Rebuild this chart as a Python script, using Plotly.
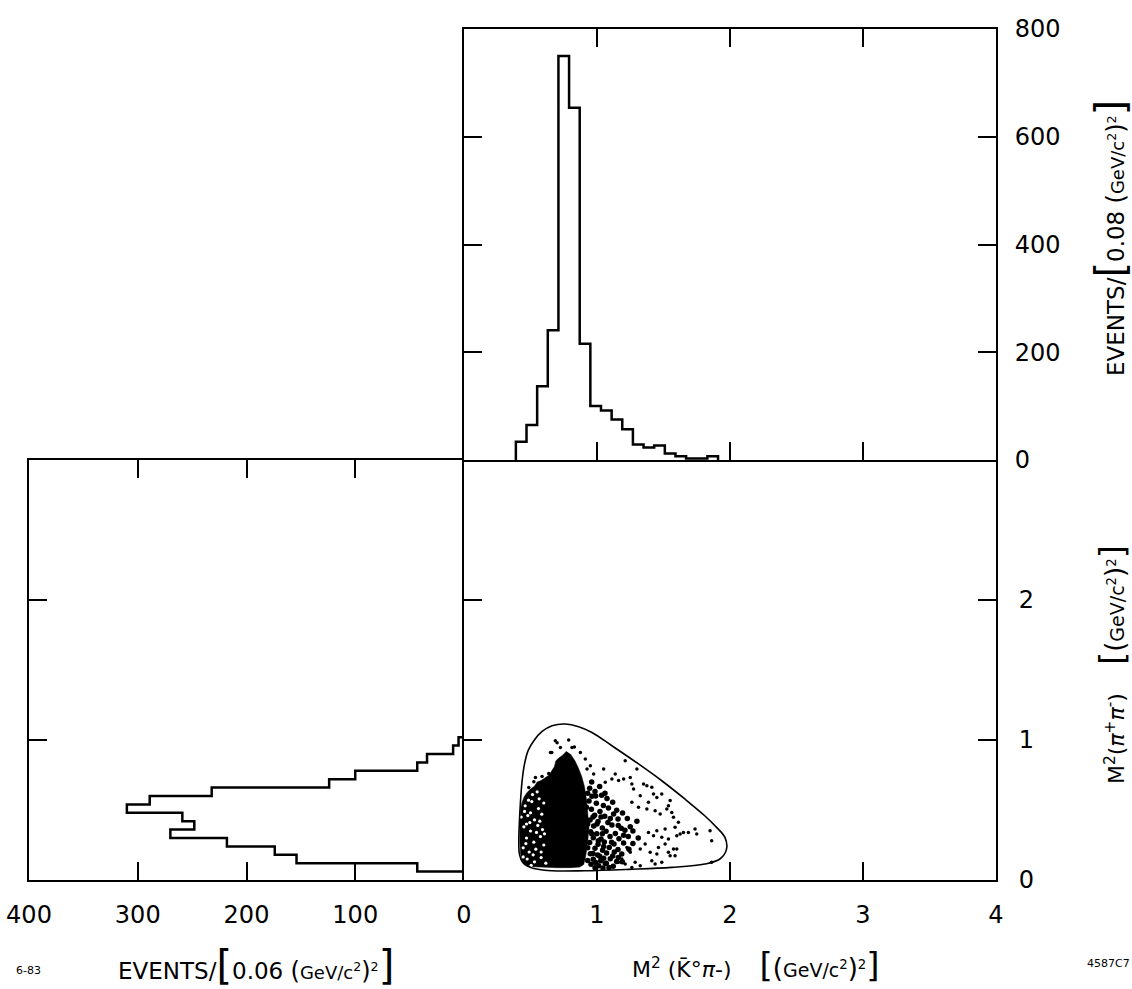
import plotly.graph_objects as go

# ---------------- data ----------------
# Upper histogram: M^2(K0bar pi-) in 0.08 (GeV/c^2)^2 bins
kpi_bin_start = 0.39
kpi_bin_width = 0.08
kpi_counts = [34, 65, 137, 241, 750, 654, 216, 100, 92, 75, 57, 29, 23, 27, 12, 7, 3, 3, 7]

# Side histogram: M^2(pi+ pi-) in 0.06 (GeV/c^2)^2 bins
pipi_bin_start = 0.06
pipi_bin_width = 0.06
pipi_counts = [43, 154, 174, 218, 270, 248, 259, 310, 289, 232, 124, 100, 43, 34, 10, 5]

# Kinematic boundary of the Dalitz plot
boundary_kpi = [0.525, 0.482, 0.455, 0.437, 0.425, 0.417, 0.412, 0.417, 0.442, 0.512, 0.662, 0.912,
                1.237, 1.561, 1.81, 1.924, 1.974, 1.962, 1.899, 1.81, 1.66, 1.487, 1.312, 1.112,
                0.962, 0.862, 0.762, 0.662, 0.587, 0.525]
boundary_pipi = [0.995, 0.924, 0.829, 0.709, 0.566, 0.424, 0.281, 0.186, 0.126, 0.086, 0.066, 0.066,
                 0.076, 0.09, 0.114, 0.15, 0.221, 0.304, 0.376, 0.459, 0.579, 0.709, 0.829, 0.959,
                 1.054, 1.095, 1.114, 1.102, 1.061, 0.995]

# Outline of the saturated (solid black) event region
core_kpi = [0.77, 0.74, 0.71, 0.69, 0.68, 0.66, 0.64, 0.61, 0.58, 0.55, 0.53, 0.50, 0.47, 0.45,
            0.435, 0.425, 0.42, 0.42, 0.425, 0.44, 0.47, 0.52, 0.60, 0.70, 0.80, 0.87, 0.90,
            0.915, 0.93, 0.94, 0.93, 0.92, 0.905, 0.885, 0.86, 0.835, 0.80]
core_pipi = [0.92, 0.89, 0.87, 0.85, 0.81, 0.78, 0.75, 0.73, 0.71, 0.70, 0.67, 0.65, 0.62, 0.59,
             0.55, 0.50, 0.40, 0.28, 0.19, 0.13, 0.105, 0.095, 0.09, 0.088, 0.088, 0.092, 0.11,
             0.17, 0.27, 0.38, 0.48, 0.58, 0.67, 0.74, 0.80, 0.85, 0.90]

# Empty specks inside the saturated region
gap_kpi = [0.46, 0.51, 0.56, 0.48, 0.53, 0.585, 0.45, 0.50, 0.555, 0.605, 0.47, 0.525, 0.575, 0.445,
           0.49, 0.54, 0.60, 0.475, 0.53, 0.58, 0.615, 0.44, 0.515, 0.565, 0.60, 0.43, 0.50, 0.55,
           0.47, 0.58, 0.455, 0.495, 0.545, 0.465, 0.52, 0.59, 0.445, 0.505, 0.57, 0.485]
gap_pipi = [0.53, 0.56, 0.51, 0.46, 0.43, 0.47, 0.38, 0.35, 0.39, 0.33, 0.30, 0.27, 0.31, 0.23,
            0.20, 0.22, 0.25, 0.15, 0.13, 0.16, 0.12, 0.12, 0.61, 0.58, 0.55, 0.45, 0.48, 0.63,
            0.40, 0.20, 0.49, 0.41, 0.34, 0.26, 0.18, 0.36, 0.165, 0.105, 0.42, 0.57]

# Events in the crowded band right of the K* column
dense_kpi = [0.945, 0.985, 1.02, 0.962, 1.035, 0.94, 1.075, 0.995, 1.048, 1.118, 0.958, 1.022, 1.086,
             1.148, 0.982, 1.058, 1.125, 1.192, 0.948, 1.008, 1.082, 1.158, 1.228, 0.975, 1.04, 1.112,
             1.182, 0.952, 0.998, 1.068, 1.138, 1.21, 0.972, 1.03, 1.098, 1.165, 0.945, 1.008, 1.055,
             1.128, 1.2, 0.985, 1.042, 1.092, 1.158, 0.95, 1.005, 1.072, 1.118, 1.186, 0.972, 1.028,
             1.1, 1.148, 0.955, 1.012, 1.062, 1.122, 0.985, 1.045, 1.09, 1.235, 1.25, 1.27, 1.19,
             0.93, 0.96, 0.92, 0.97, 0.93, 0.96, 0.93, 0.97, 0.93, 1.00, 1.03, 1.01, 1.04, 1.02,
             1.05, 0.99, 1.06, 1.10, 1.11, 1.13, 1.16, 1.20, 1.07, 0.99, 1.05, 1.16, 1.24, 1.27,
             1.31, 1.30]
dense_pipi = [0.655, 0.632, 0.668, 0.598, 0.605, 0.565, 0.582, 0.548, 0.532, 0.556, 0.505, 0.49, 0.515,
              0.498, 0.462, 0.455, 0.472, 0.478, 0.428, 0.418, 0.41, 0.435, 0.44, 0.385, 0.372, 0.392,
              0.37, 0.345, 0.33, 0.348, 0.332, 0.355, 0.302, 0.292, 0.31, 0.295, 0.268, 0.255, 0.272,
              0.258, 0.265, 0.226, 0.212, 0.232, 0.218, 0.188, 0.178, 0.192, 0.172, 0.186, 0.148, 0.138,
              0.152, 0.132, 0.112, 0.102, 0.118, 0.098, 0.088, 0.085, 0.09, 0.31, 0.38, 0.26, 0.13,
              0.62, 0.70, 0.52, 0.45, 0.40, 0.33, 0.23, 0.19, 0.14, 0.40, 0.45, 0.28, 0.33, 0.17,
              0.24, 0.60, 0.62, 0.44, 0.27, 0.20, 0.39, 0.32, 0.12, 0.125, 0.155, 0.16, 0.22, 0.35,
              0.30, 0.42]

# Isolated events
sparse_kpi = [0.687, 0.787, 0.725, 0.65, 0.812, 0.875, 0.912, 0.95, 0.925, 0.975, 0.637, 0.537, 0.487,
              0.587, 0.525, 0.70, 0.83, 0.66,
              1.212, 1.05, 1.137, 1.30, 1.112, 1.162, 1.20, 1.25, 1.062, 1.262, 1.35, 1.375, 1.412,
              1.275, 1.325, 1.425, 1.45, 1.487, 1.55, 1.387, 1.537, 1.262, 1.312, 1.375, 1.437, 1.475,
              1.525, 1.562, 1.575, 1.612, 1.587, 1.65, 1.625, 1.60, 1.687, 1.737, 1.75, 1.85, 1.862,
              1.512, 1.45, 1.425, 1.387, 1.487, 1.537, 1.512, 1.575, 1.537, 1.60, 1.462, 1.40, 1.45,
              1.412, 1.437, 1.487, 1.55, 1.587, 1.287, 1.325, 1.262, 1.862, 1.362, 1.325, 1.225,
              1.25, 1.187, 1.162, 1.212]
sparse_pipi = [0.995, 1.0, 0.947, 0.911, 0.947, 0.911, 0.864, 0.816, 0.793, 0.757, 0.76, 0.733, 0.661,
               0.74, 0.702, 0.98, 0.95, 0.91,
               0.852, 0.793, 0.757, 0.793, 0.721, 0.71, 0.721, 0.733, 0.698, 0.686, 0.686, 0.674, 0.662,
               0.65, 0.602, 0.614, 0.59, 0.614, 0.567, 0.555, 0.531, 0.555, 0.519, 0.507, 0.495, 0.471,
               0.507, 0.483, 0.448, 0.412, 0.376, 0.34, 0.328, 0.316, 0.34, 0.364, 0.328, 0.352, 0.281,
               0.364, 0.352, 0.316, 0.34, 0.305, 0.293, 0.257, 0.221, 0.198, 0.221, 0.233, 0.198, 0.186,
               0.138, 0.114, 0.126, 0.174, 0.174, 0.126, 0.102, 0.09, 0.126, 0.257, 0.221, 0.233,
               0.198, 0.15, 0.126, 0.114]

# Axis tick values
kpi_ticks = [0, 1, 2, 3, 4]
pipi_ticks = [0, 1, 2]
top_count_ticks = [0, 200, 400, 600, 800]
side_count_ticks = [400, 300, 200, 100]


def step_outline(start, width, counts):
    """Closed histogram outline (positions along the binned axis, counts)."""
    edges = [start + i * width for i in range(len(counts) + 1)]
    pos, val = [edges[0]], [0]
    for i, c in enumerate(counts):
        pos += [edges[i], edges[i + 1]]
        val += [c, c]
    pos.append(edges[-1])
    val.append(0)
    return pos, val


top_x, top_y = step_outline(kpi_bin_start, kpi_bin_width, kpi_counts)
side_y, side_x = step_outline(pipi_bin_start, pipi_bin_width, pipi_counts)

W, H = 1132, 989
FONT = "DejaVu Sans"


def px(x):
    return x / W


def py(y):
    return 1 - y / H


fig = go.Figure()

# Dalitz plot
fig.add_trace(go.Scatter(x=core_kpi, y=core_pipi, fill="toself", fillcolor="black",
                         mode="lines", line=dict(width=0.5, color="black"),
                         xaxis="x", yaxis="y", hoverinfo="skip"))
fig.add_trace(go.Scatter(x=gap_kpi, y=gap_pipi, mode="markers",
                         marker=dict(color="white", size=3.2, line=dict(width=0)),
                         xaxis="x", yaxis="y", hoverinfo="skip"))
fig.add_trace(go.Scatter(x=dense_kpi, y=dense_pipi, mode="markers",
                         marker=dict(color="black", size=5.5, line=dict(width=0)),
                         xaxis="x", yaxis="y"))
fig.add_trace(go.Scatter(x=sparse_kpi, y=sparse_pipi, mode="markers",
                         marker=dict(color="black", size=3.5, line=dict(width=0)),
                         xaxis="x", yaxis="y"))
fig.add_trace(go.Scatter(x=boundary_kpi, y=boundary_pipi, mode="lines",
                         line=dict(color="black", width=1.6, shape="spline", smoothing=1.0),
                         xaxis="x", yaxis="y", hoverinfo="skip"))

# Upper projection
fig.add_trace(go.Scatter(x=top_x, y=top_y, mode="lines",
                         line=dict(color="black", width=2.5),
                         xaxis="x2", yaxis="y2"))
# Side projection
fig.add_trace(go.Scatter(x=side_x, y=side_y, mode="lines",
                         line=dict(color="black", width=2.5),
                         xaxis="x3", yaxis="y3"))

dom_x_main = [px(464), px(996)]
dom_x_side = [px(29), px(464)]
dom_y_main = [py(880), py(460)]
dom_y_top = [py(460), py(29)]

axis_common = dict(showline=True, linecolor="black", linewidth=2, showgrid=False, zeroline=False,
                   ticks="inside", ticklen=18, tickwidth=1.5, tickcolor="black", automargin=False,
                   tickfont=dict(family=FONT, size=24, color="black"))

# Shared borders are drawn once: the top panel supplies the line above the
# Dalitz plot and the Dalitz plot's mirrored y axis supplies the side panel's right edge.
fig.update_layout(
    width=W, height=H, margin=dict(l=0, r=0, t=0, b=0),
    paper_bgcolor="white", plot_bgcolor="white", showlegend=False,
    xaxis=dict(domain=dom_x_main, range=[0, 4], anchor="y", tickvals=kpi_ticks,
               mirror=False, ticklabelstandoff=12, **axis_common),
    yaxis=dict(domain=dom_y_main, range=[0, 3], anchor="x", side="right", tickvals=pipi_ticks,
               mirror="ticks", ticklabelstandoff=16, **axis_common),
    xaxis2=dict(domain=dom_x_main, range=[0, 4], anchor="y2", tickvals=[1, 2, 3],
                mirror="ticks", showticklabels=False, **axis_common),
    yaxis2=dict(domain=dom_y_top, range=[0, 800], anchor="x2", side="right",
                tickvals=top_count_ticks, mirror="ticks", ticklabelstandoff=12, **axis_common),
    xaxis3=dict(domain=dom_x_side, range=[400, 0], anchor="y3", tickvals=side_count_ticks,
                mirror="ticks", ticklabelstandoff=12, **axis_common),
    yaxis3=dict(domain=dom_y_main, range=[0, 3], anchor="x3", tickvals=[1, 2],
                mirror=False, showticklabels=False, **axis_common),
)

NB = "\u00a0"
big = lambda s, n: f"<span style='font-size:{n}px'>{s}</span>"


def unit(paren, small):
    return (f"{big('(', paren)}<span style='font-size:{small}px'>GeV/c<sup>2</sup></span>"
            f"{big(')', paren)}<span style='font-size:{small}px'><sup>2</sup></span>")


annotations = [
    dict(x=px(256), y=py(965), text=f"EVENTS/{big('[', 40)}0.06{NB}{unit(24, 18)}{big(']', 40)}",
         font=dict(size=23)),
    dict(x=px(28), y=py(970), text="6-83", font=dict(size=11)),
    dict(x=px(756), y=py(965),
         text=f"M<sup>2</sup>{NB}(K\u0304°<i>π</i>-){NB*4}{big('[', 34)}{unit(26, 19)}{big(']', 34)}",
         font=dict(size=22)),
    dict(x=px(1108), y=py(963), text="4587C7", font=dict(size=11)),
    dict(x=px(1110), y=py(238), textangle=-90,
         text=f"EVENTS/{big('[', 40)}0.08{NB}{unit(24, 18)}{big(']', 40)}",
         font=dict(size=23)),
    dict(x=px(1112), y=py(665), textangle=-90,
         text=f"M<sup>2</sup>(<i>π</i><sup>+</sup><i>π</i><sup>-</sup>){NB*4}{big('[', 34)}{unit(26, 19)}{big(']', 34)}",
         font=dict(size=22)),
]
for a in annotations:
    a.update(xref="paper", yref="paper", showarrow=False, xanchor="center", yanchor="middle")
    a["font"] = dict(family=FONT, color="black", **a["font"])
fig.update_layout(annotations=annotations)

fig.write_html("out.html")
